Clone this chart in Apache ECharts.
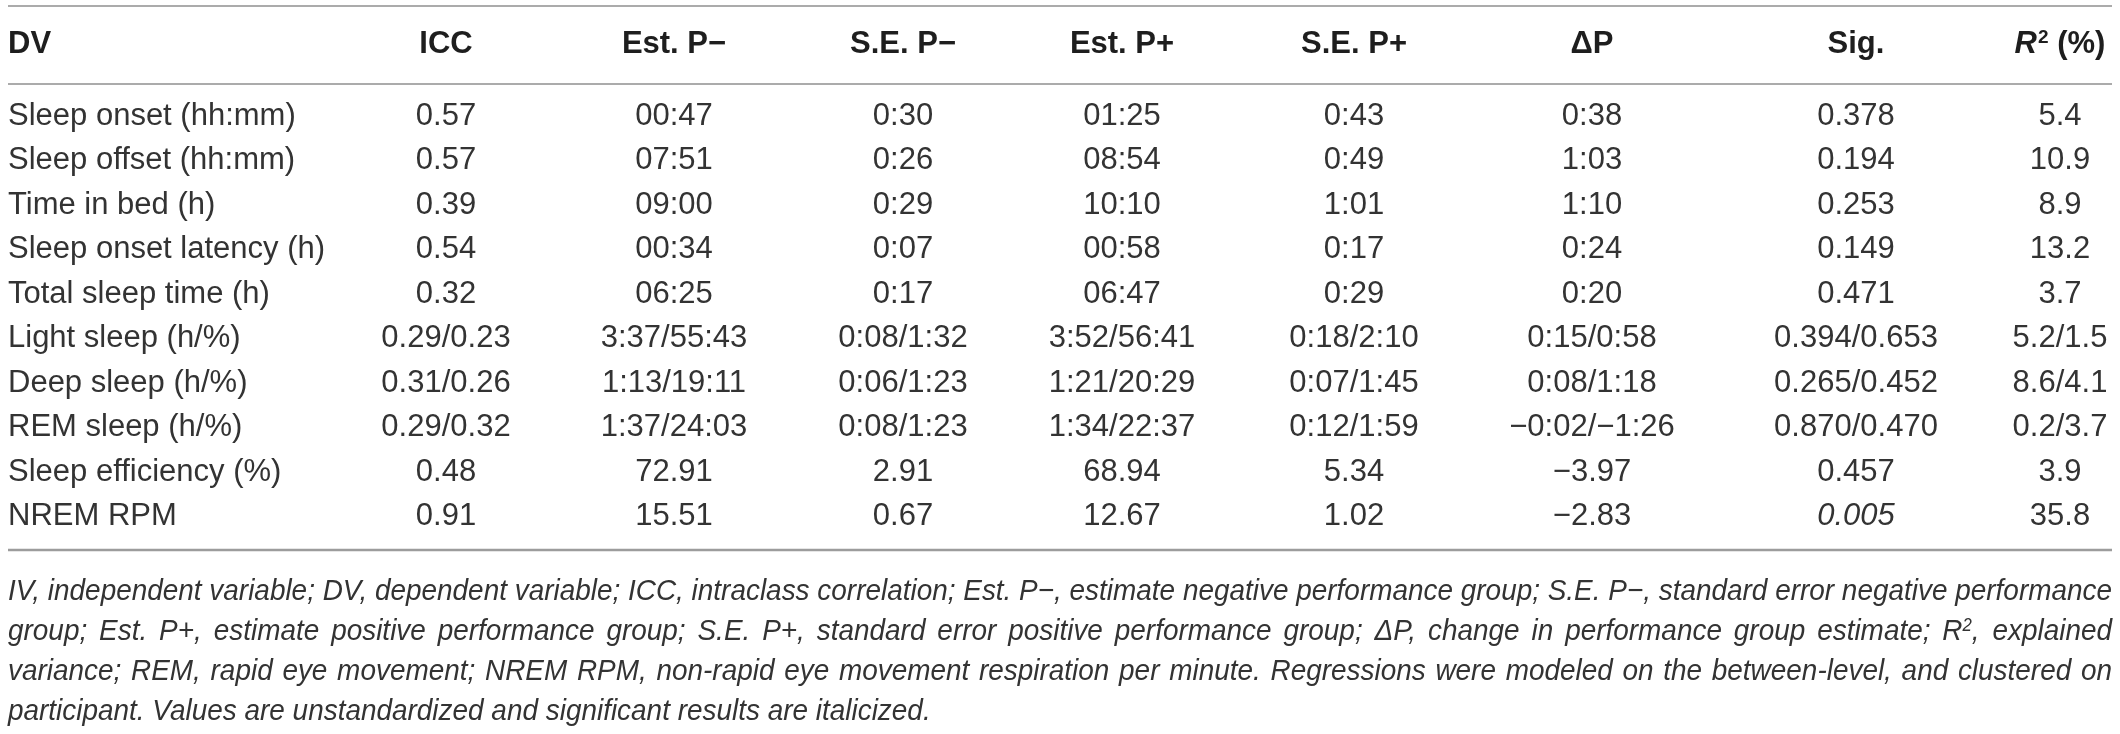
<!DOCTYPE html>
<html lang="en">
<head>
<meta charset="UTF-8">
<title>Sleep measures by performance group</title>
<script src="https://cdn.jsdelivr.net/npm/echarts@6/dist/echarts.min.js"></script>
<style>
  html, body { margin: 0; padding: 0; background: #fff; }
  #main { width: 2120px; height: 734px; }
</style>
</head>
<body>
<div id="main"></div>
<script>
// ---- table data ----
var headers = ['DV', 'ICC', 'Est. P\u2212', 'S.E. P\u2212', 'Est. P+', 'S.E. P+', '\u0394P', 'Sig.', 'R2 (%)'];
var dv = ['Sleep onset (hh:mm)', 'Sleep offset (hh:mm)', 'Time in bed (h)', 'Sleep onset latency (h)',
  'Total sleep time (h)', 'Light sleep (h/%)', 'Deep sleep (h/%)', 'REM sleep (h/%)',
  'Sleep efficiency (%)', 'NREM RPM'];
var icc = ['0.57', '0.57', '0.39', '0.54', '0.32', '0.29/0.23', '0.31/0.26', '0.29/0.32', '0.48', '0.91'];
var estNeg = ['00:47', '07:51', '09:00', '00:34', '06:25', '3:37/55:43', '1:13/19:11', '1:37/24:03', '72.91', '15.51'];
var seNeg = ['0:30', '0:26', '0:29', '0:07', '0:17', '0:08/1:32', '0:06/1:23', '0:08/1:23', '2.91', '0.67'];
var estPos = ['01:25', '08:54', '10:10', '00:58', '06:47', '3:52/56:41', '1:21/20:29', '1:34/22:37', '68.94', '12.67'];
var sePos = ['0:43', '0:49', '1:01', '0:17', '0:29', '0:18/2:10', '0:07/1:45', '0:12/1:59', '5.34', '1.02'];
var deltaP = ['0:38', '1:03', '1:10', '0:24', '0:20', '0:15/0:58', '0:08/1:18', '\u22120:02/\u22121:26', '\u22123.97', '\u22122.83'];
var sig = ['0.378', '0.194', '0.253', '0.149', '0.471', '0.394/0.653', '0.265/0.452', '0.870/0.470', '0.457', '0.005'];
var r2 = ['5.4', '10.9', '8.9', '13.2', '3.7', '5.2/1.5', '8.6/4.1', '0.2/3.7', '3.9', '35.8'];
var sigItalic = [false, false, false, false, false, false, false, false, false, true];

var footnoteLines = [
  'IV, independent variable; DV, dependent variable; ICC, intraclass correlation; Est. P\u2212, estimate negative performance group; S.E. P\u2212, standard error negative performance',
  'group; Est. P+, estimate positive performance group; S.E. P+, standard error positive performance group; \u0394P, change in performance group estimate; R^2, explained',
  'variance; REM, rapid eye movement; NREM RPM, non-rapid eye movement respiration per minute. Regressions were modeled on the between-level, and clustered on',
  'participant. Values are unstandardized and significant results are italicized.'
];

var columns = [dv, icc, estNeg, seNeg, estPos, sePos, deltaP, sig, r2];

// ---- layout ----
var W = 2120, H = 734;
var left = 8, right = 2112;
var colX = [8, 446, 674, 903, 1122, 1354, 1592, 1856, 2060];
var headerY = 44, firstRowY = 116, rowStep = 44.5;
var topRuleY = 6, headRuleY = 84, bottomRuleY = 550;
var noteY = 592, noteStep = 40;
var FAMILY = '"Liberation Sans", Arial, sans-serif';
var FS = 31;
var INK = '#333333';
var HEAD = '#1e1e1e';

var cells = [];
for (var c = 0; c < columns.length; c++) {
  cells.push([colX[c], headerY, c, -1]);
  for (var r = 0; r < dv.length; r++) {
    cells.push([colX[c], firstRowY + r * rowStep, c, r]);
  }
}

function cellText(c, r) {
  if (r < 0) {
    if (c === 8) return '{ri|R}{sup|2}{hb| (%)}';
    return headers[c];
  }
  if (c === 7 && sigItalic[r]) return '{it|' + sig[r] + '}';
  return columns[c][r];
}

var chart = echarts.init(document.getElementById('main'), null, { renderer: 'canvas' });

var option = {
  animation: false,
  grid: { left: 0, right: 0, top: 0, bottom: 0 },
  xAxis: { type: 'value', min: 0, max: W, show: false },
  yAxis: { type: 'value', min: 0, max: H, inverse: true, show: false },
  series: [{
    type: 'custom',
    coordinateSystem: 'cartesian2d',
    data: cells,
    silent: true,
    renderItem: function (params, api) {
      var c = api.value(2), r = api.value(3);
      var p = api.coord([api.value(0), api.value(1)]);
      var head = r < 0;
      var align = c === 0 ? 'left' : 'center';
      return {
        type: 'text',
        x: p[0],
        y: p[1],
        style: {
          text: cellText(c, r),
          font: (head ? 'bold ' : '') + FS + 'px ' + FAMILY,
          fill: head ? HEAD : INK,
          align: align,
          verticalAlign: 'middle',
          textAlign: align,
          textVerticalAlign: 'middle',
          rich: {
            ri: { fontFamily: FAMILY, fontSize: FS, fontWeight: 'bold', fontStyle: 'italic', fill: HEAD },
            sup: { fontFamily: FAMILY, fontSize: 19, fontWeight: 'bold', fill: HEAD, verticalAlign: 'top', padding: [0, 0, 12, 1] },
            hb: { fontFamily: FAMILY, fontSize: FS, fontWeight: 'bold', fill: HEAD },
            it: { fontFamily: FAMILY, fontSize: FS, fontStyle: 'italic', fill: INK }
          }
        }
      };
    }
  }],
  graphic: []
};

// rules
[topRuleY, headRuleY, bottomRuleY].forEach(function (y, i) {
  option.graphic.push({
    type: 'line',
    shape: { x1: left, y1: y, x2: right, y2: y },
    style: { stroke: i === 2 ? '#9c9c9c' : '#ababab', lineWidth: i === 2 ? 2.5 : 2 }
  });
});

// footnote, justified word by word
var NFS = 30;
var SUPFS = 18;
var noteFont = 'italic ' + NFS + 'px ' + FAMILY;
var supFont = 'italic ' + SUPFS + 'px ' + FAMILY;
var ctx = document.createElement('canvas').getContext('2d');
function measure(word) {
  if (word.indexOf('^') >= 0) {
    var parts = word.split('^');
    ctx.font = noteFont;
    var w = ctx.measureText(parts[0]).width + ctx.measureText(parts[1].slice(1)).width;
    ctx.font = supFont;
    return w + ctx.measureText(parts[1].charAt(0)).width + 1;
  }
  ctx.font = noteFont;
  return ctx.measureText(word).width;
}
ctx.font = noteFont;
var spaceW = ctx.measureText(' ').width;
var sx = 1;
footnoteLines.forEach(function (line, li) {
  if (li === footnoteLines.length - 1) return;
  var words = line.split(' ');
  var nat = words.reduce(function (s, w) { return s + measure(w); }, 0) + spaceW * (words.length - 1);
  sx = Math.min(sx, (right - left) / nat);
});
footnoteLines.forEach(function (line, li) {
  var words = line.split(' ');
  var widths = words.map(function (w) { return measure(w) * sx; });
  var total = widths.reduce(function (s, w) { return s + w; }, 0);
  var last = li === footnoteLines.length - 1;
  var gap = last ? spaceW * sx : (right - left - total) / (words.length - 1);
  var x = left;
  words.forEach(function (w, wi) {
    var txt = w;
    if (w.indexOf('^') >= 0) {
      var parts = w.split('^');
      txt = '{i|' + parts[0] + '}{s|' + parts[1].charAt(0) + '}{i|' + parts[1].slice(1) + '}';
    }
    option.graphic.push({
      type: 'text',
      x: x,
      y: noteY + li * noteStep,
      scaleX: sx,
      silent: true,
      style: {
        text: txt,
        font: noteFont,
        fill: INK,
        verticalAlign: 'middle',
        rich: {
          i: { fontFamily: FAMILY, fontSize: NFS, fontStyle: 'italic', fill: INK },
          s: { fontFamily: FAMILY, fontSize: SUPFS, fontStyle: 'italic', fill: INK, verticalAlign: 'top', padding: [0, 0, 11, 0] }
        }
      }
    });
    x += widths[wi] + gap;
  });
});

chart.setOption(option);
window.addEventListener('resize', chart.resize);
</script>
</body>
</html>
